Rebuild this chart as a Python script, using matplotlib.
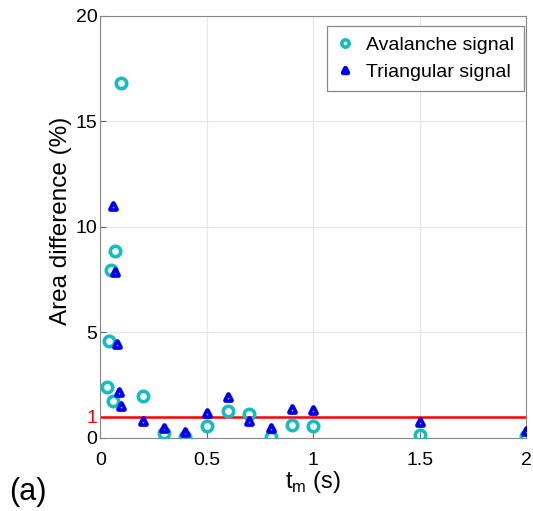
"""Area difference vs t_m for avalanche and triangular signals."""
import matplotlib
matplotlib.use("Agg")
import matplotlib.pyplot as plt
from matplotlib.markers import MarkerStyle

plt.rcParams.update({
    "font.family": ["Liberation Sans", "DejaVu Sans"],
    "mathtext.fontset": "custom",
    "mathtext.rm": "Liberation Sans",
    "xtick.direction": "in",
    "ytick.direction": "in",
})

# avalanche signal (%)
t_aval = [0.03, 0.04, 0.05, 0.06, 0.07, 0.1, 0.2, 0.3, 0.4, 0.5, 0.6,
          0.7, 0.8, 0.9, 1.0, 1.5, 2.0]
d_aval = [2.43, 4.57, 7.96, 1.75, 8.86, 16.8, 2.0, 0.25, 0.05, 0.58,
          1.28, 1.13, 0.06, 0.6, 0.57, 0.14, 0.1]

# triangular signal (%)
t_tri = [0.06, 0.07, 0.08, 0.09, 0.1, 0.2, 0.3, 0.4, 0.5, 0.6, 0.7,
         0.8, 0.9, 1.0, 1.5, 2.0]
d_tri = [11.0, 7.87, 4.45, 2.18, 1.52, 0.8, 0.47, 0.3, 1.17, 1.92,
         0.8, 0.47, 1.37, 1.33, 0.75, 0.33]

threshold = 1

fig = plt.figure(figsize=(5.33, 5.11), dpi=100)
ax = fig.add_axes([0.188, 0.143, 0.799, 0.826])

tri = MarkerStyle("^", fillstyle="none", joinstyle="round")
ax.plot(t_aval, d_aval, "o", ls="none", mfc="none", mec="#17BDBD",
        mew=2.6, ms=7.5, label="Avalanche signal", zorder=3)
ax.plot(t_tri, d_tri, ls="none", marker=tri, mec="#0000F0",
        mew=3.4, ms=4.8, label="Triangular signal", zorder=3)
ax.axhline(threshold, color="red", linewidth=1.8, zorder=2)

ax.set_xlim(0, 2)
ax.set_ylim(0, 20)
ax.set_xticks([0, 0.5, 1, 1.5, 2])
ax.set_xticklabels(["0", "0.5", "1", "1.5", "2"])
ax.set_yticks([0, 1, 5, 10, 15, 20])
ax.set_yticklabels(["0", "1", "5", "10", "15", "20"])
ax.get_yticklabels()[1].set_color("red")
ax.tick_params(labelsize=14, length=4, color="#666666")
ax.tick_params(axis="x", pad=10)
ax.tick_params(axis="y", pad=2)
ax.grid(True, color="#e6e6e6", linewidth=0.9)
for s in ax.spines.values():
    s.set_color("#888888")

ax.set_xlabel(r"t$_\mathrm{m}$ (s)", fontsize=17, labelpad=0)
ax.set_ylabel("Area difference (%)", fontsize=17.5)
ax.yaxis.set_label_coords(-0.067, 0.515)

leg = ax.legend(loc="upper right", bbox_to_anchor=(0.994, 0.975),
                borderaxespad=0, fontsize=14, fancybox=False,
                edgecolor="#888888", framealpha=1, handletextpad=0.6,
                borderpad=0.5, handlelength=0.9, markerscale=0.7)
leg.get_frame().set_linewidth(0.9)

fig.text(0.018, 0.008, "(a)", fontsize=22, va="bottom")

fig.savefig("out.png", dpi=100)
